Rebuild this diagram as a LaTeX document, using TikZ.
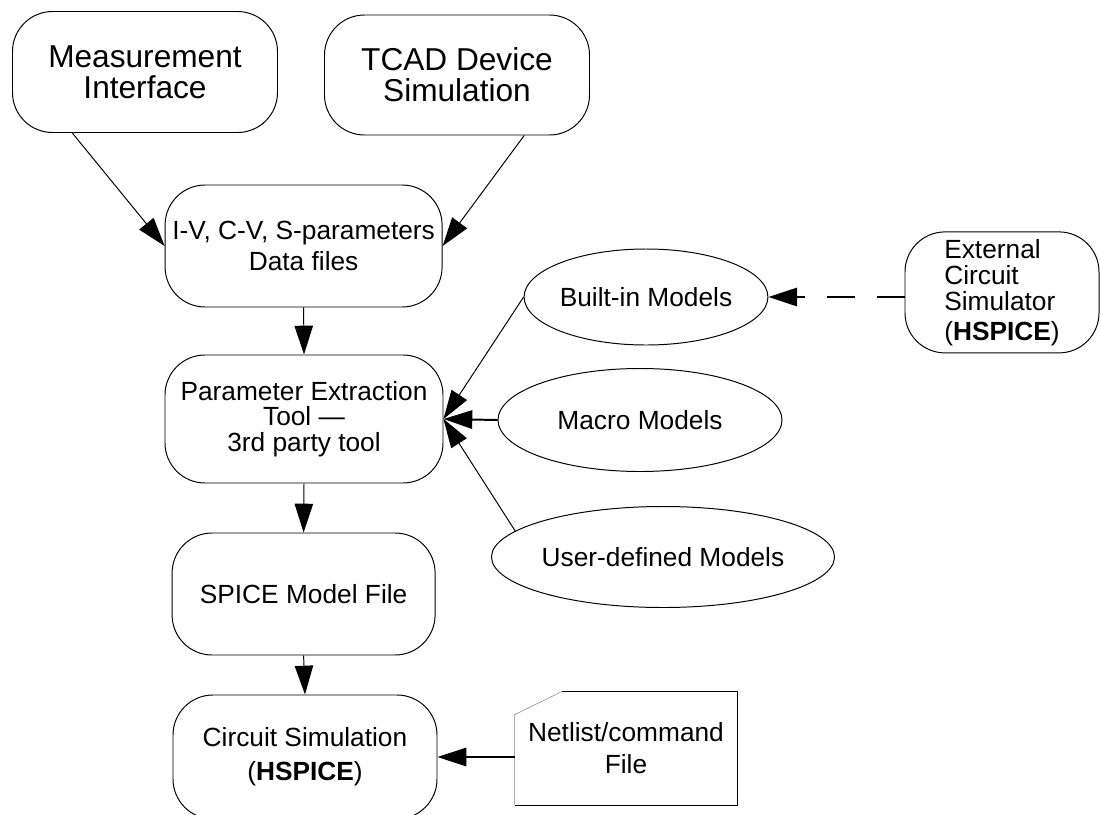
\documentclass[tikz,border=0pt]{standalone}
\usepackage{fontspec}
\setmainfont{Liberation Sans}
\usetikzlibrary{positioning,%
  shapes.geometric,%
  arrows.meta,%
  calc
}

\begin{document}
\begin{tikzpicture}
                    [
                        every node/.style={align=center, inner sep=0pt, font=\fontsize{18.7}{21.5}\selectfont},
                        box/.style={draw, rounded corners=1cm, line width=0.7pt, minimum width=6.6cm, minimum height=3.05cm},
                        model/.style={draw, ellipse, line width=0.7pt},
                        big/.style={font=\fontsize{22.5}{22}\selectfont},
                        link/.style={line width=0.7pt, -{Triangle[length=0.72cm,width=0.46cm]}},
                        boldlink/.style={link, line width=1.4pt},
                        dashlink/.style={boldlink, dash pattern=on 0.7cm off 0.55cm}
                    ]

                    % Rahmen
                    \useasboundingbox (0,0) rectangle (27.525,-20.375);

                    \node[box, big, minimum width=6.625cm, minimum height=3.025cm] (meas) at (3.625,-1.8) {Measurement\\Interface};
                    \node[box, big, minimum width=6.625cm, minimum height=3cm] (tcad) at (11.425,-1.875) {TCAD Device\\Simulation};
                    \node[box, minimum width=6.925cm] (data) at (7.59,-6.15) {I-V, C-V, S-parameters\\Data files};
                    \node[box, minimum width=6.95cm, minimum height=3.2cm, font=\fontsize{18.7}{18}\selectfont] (param) at (7.6,-10.475) {Parameter Extraction\\Tool ---\\3rd party tool};
                    \node[box, minimum width=6.575cm] (spice) at (7.59,-14.85) {SPICE Model File};
                    \node[box, minimum height=3.1cm, font=\fontsize{18.7}{24}\selectfont] (circ) at (7.625,-18.925) {Circuit Simulation\\(\textbf{HSPICE})};

                    \node[model, minimum width=5.925cm, minimum height=2.4cm] (builtin) at (16.15,-7.425) {Built-in Models};
                    \node[model, minimum width=7.1cm, minimum height=2.575cm] (macro) at (16.0,-10.5) {Macro Models};
                    \node[model, minimum width=6.925cm, minimum height=2.525cm] (userdef) at (16.575,-13.925) {User-defined Models};

                    \node[box, minimum width=4.85cm, minimum height=3.025cm, align=left, font=\fontsize{18.7}{18.5}\selectfont] (ext) at (25.05,-7.31) {External\\Circuit\\Simulator\\[3pt](\textbf{HSPICE})};

                    \node[minimum width=5.55cm, minimum height=2.825cm, font=\fontsize{18.7}{22.5}\selectfont] (netl) at (15.65,-18.71) {Netlist/command\\File};
                    \draw[line width=0.7pt] ([xshift=1.175cm]netl.north west) -- (netl.north east) -- (netl.south east) -- (netl.south west);
                    \draw[line width=0.35pt, gray] (netl.south west) -- ([yshift=-0.575cm]netl.north west) -- ([xshift=1.175cm]netl.north west);

                    \draw[link] (meas.220) -- (data.west);
                    \draw[link] (tcad.318) -- (data.east);
                    \draw[link] (data.south) -- (param.north);
                    \draw[link] (param.south) -- (spice.north);
                    \draw[link] (spice.south) -- (circ.north);
                    \draw[link] (builtin.west) -- (param.east);
                    \draw[boldlink] (macro.west) -- (param.east);
                    \draw[link] (userdef.170) -- (param.east);
                    \draw[dashlink] (builtin.east -| ext.west) -- (builtin.east);
                    \draw[boldlink] (circ.east -| netl.west) -- (circ.east);
                \end{tikzpicture}
\end{document}
